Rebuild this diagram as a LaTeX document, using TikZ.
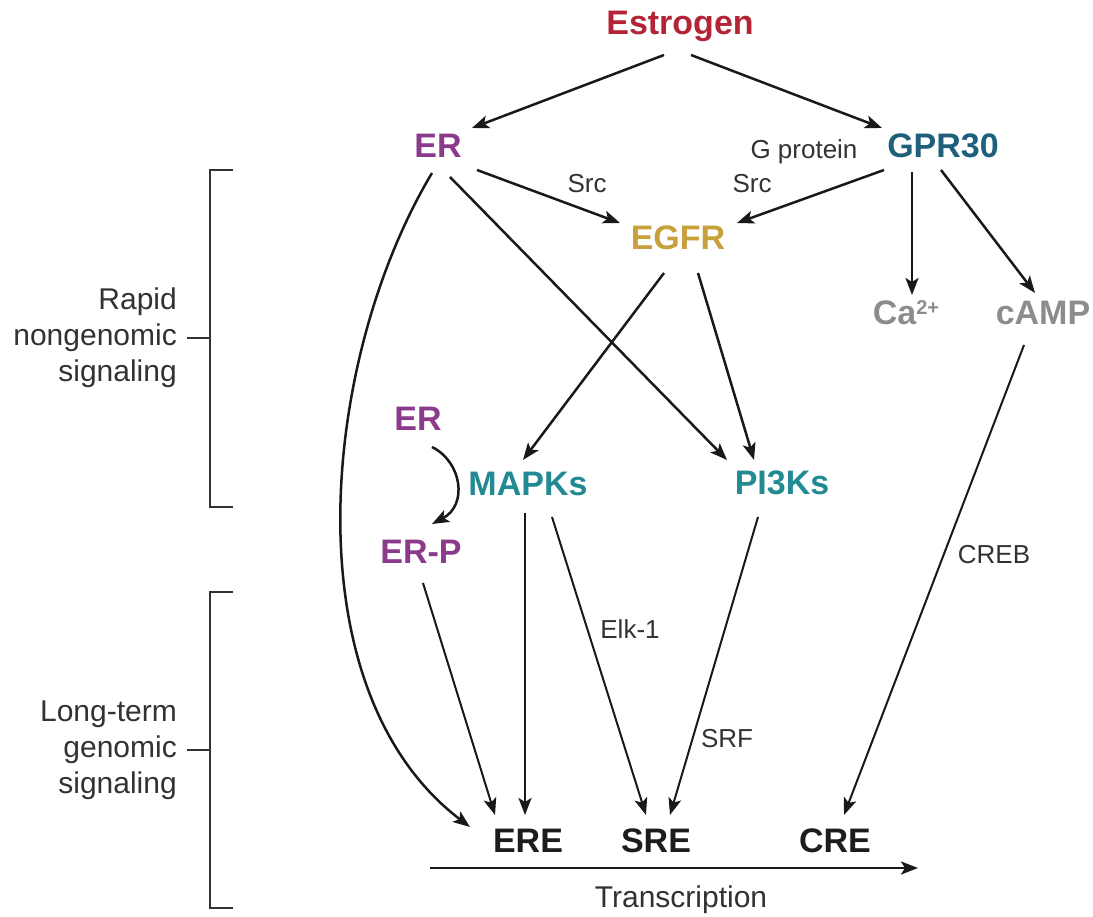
\documentclass[tikz,border=0pt]{standalone}
\usepackage{fontspec}
\setmainfont{Liberation Sans}
\usetikzlibrary{arrows.meta}
\definecolor{estr}{RGB}{178,36,54}
\definecolor{erc}{RGB}{140,58,140}
\definecolor{gprc}{RGB}{30,96,124}
\definecolor{egfrc}{RGB}{200,160,60}
\definecolor{kinc}{RGB}{34,138,146}
\definecolor{grayc}{RGB}{140,140,140}
\definecolor{darkc}{RGB}{28,28,28}
\definecolor{labc}{RGB}{50,50,50}
\definecolor{linec}{RGB}{25,25,25}
\begin{document}
\begin{tikzpicture}[x=1pt,y=-1pt,
  big/.style={font=\bfseries\fontsize{34}{40}\selectfont, anchor=base, inner sep=0pt},
  small/.style={font=\fontsize{26}{30}\selectfont, text=labc, anchor=base, inner sep=0pt},
  side/.style={font=\fontsize{30}{36}\selectfont, text=labc, anchor=east, align=right, inner sep=0pt},
  arr/.style={-{Stealth[length=17pt,width=13pt,inset=4pt]}, line width=2.5pt, draw=linec},
  thinarr/.style={-{Stealth[length=17pt,width=13pt,inset=4pt]}, line width=2pt, draw=linec},
  brk/.style={line width=1.6pt, draw=labc}]
\useasboundingbox (0,0) rectangle (1093,917);

% main nodes
\node[big, text=estr] (Estrogen) at (680,35) {Estrogen};
\node[big, text=erc] (ERt) at (438,158) {ER};
\node[big, text=gprc] (GPR) at (943,158) {GPR30};
\node[big, text=egfrc] (EGFR) at (678,250) {EGFR};
\node[big, text=grayc] (Ca) at (906,325) {Ca\raisebox{10pt}{\fontsize{20}{20}\selectfont 2+}};
\node[big, text=grayc] (cAMP) at (1043,325) {cAMP};
\node[big, text=erc] (ERm) at (418,430) {ER};
\node[big, text=kinc] (MAPKs) at (528,495) {MAPKs};
\node[big, text=kinc] (PI3Ks) at (782,494) {PI3Ks};
\node[big, text=erc] (ERP) at (421,563) {ER-P};
\node[big, text=darkc] (ERE) at (528,852) {ERE};
\node[big, text=darkc] (SRE) at (656,852) {SRE};
\node[big, text=darkc] (CRE) at (835,852) {CRE};

% small labels
\node[small] (Gprot) at (804,159) {G protein};
\node[small] (SrcL) at (587,193) {Src};
\node[small] (SrcR) at (752,193) {Src};
\node[small] (Elk) at (630,638) {Elk-1};
\node[small] (CREB) at (994,563) {CREB};
\node[small] (SRF) at (727,747) {SRF};
\node[small, font=\fontsize{30}{36}\selectfont] (Transc) at (681,907) {Transcription};

% side labels and brackets
\node[side] (rapid) at (177,338) {Rapid\\nongenomic\\signaling};
\node[side] (longt) at (177,750) {Long-term\\genomic\\signaling};
\draw[brk] (233,170) -- (210,170) -- (210,507) -- (233,507);
\draw[brk] ([xshift=10pt]rapid.east) -- (210,338);
\draw[brk] (233,592) -- (210,592) -- (210,908) -- (233,908);
\draw[brk] ([xshift=10pt]longt.east) -- (210,750);

% connectors
\draw[arr] ([shift={(-16,20)}]Estrogen.base) -- ([shift={(34,-30)}]ERt.base);
\draw[arr] ([shift={(11,20)}]Estrogen.base) -- ([shift={(-61,-30)}]GPR.base);
\draw[arr] ([shift={(39,12)}]ERt.base) -- ([shift={(-58,-27)}]EGFR.base);
\draw[arr] ([shift={(-59,12)}]GPR.base) -- ([shift={(59,-27)}]EGFR.base);
\draw[arr] ([shift={(-31,14)}]GPR.base) -- ([shift={(6,-30)}]Ca.base);
\draw[arr] ([shift={(-2,12)}]GPR.base) -- ([shift={(-8,-32)}]cAMP.base);
\draw[arr] ([shift={(-6,15)}]ERt.base) .. controls +(-112,187) and +(-180,-137) .. ([shift={(-58,-25)}]ERE.base);
\draw[arr] ([shift={(12,19)}]ERt.base) -- ([shift={(-55,-34)}]PI3Ks.base);
\draw[arr] ([shift={(-14,23)}]EGFR.base) -- ([shift={(-5,-35)}]MAPKs.base);
\draw[arr] ([shift={(20,23)}]EGFR.base) -- ([shift={(-28,-34)}]PI3Ks.base);
\draw[thinarr] ([shift={(-19,20)}]cAMP.base) -- ([shift={(9,-37)}]CRE.base);
\draw[arr] ([shift={(14,17)}]ERm.base) .. controls +(30,15) and +(36,-19) .. ([shift={(11,-39)}]ERP.base);
\draw[arr] ([shift={(-3,18)}]MAPKs.base) -- ([shift={(-3,-37)}]ERE.base);
\draw[thinarr] ([shift={(24,22)}]MAPKs.base) -- ([shift={(-10,-37)}]SRE.base);
\draw[thinarr] ([shift={(-24,23)}]PI3Ks.base) -- ([shift={(14,-37)}]SRE.base);
\draw[thinarr] ([shift={(2,20)}]ERP.base) -- ([shift={(-33,-37)}]ERE.base);

% transcription arrow
\coordinate (tx0) at (430,868);
\coordinate (tx1) at (918,868);
\draw[arr, line width=2.6pt] (tx0) -- (tx1);
\end{tikzpicture}
\end{document}
